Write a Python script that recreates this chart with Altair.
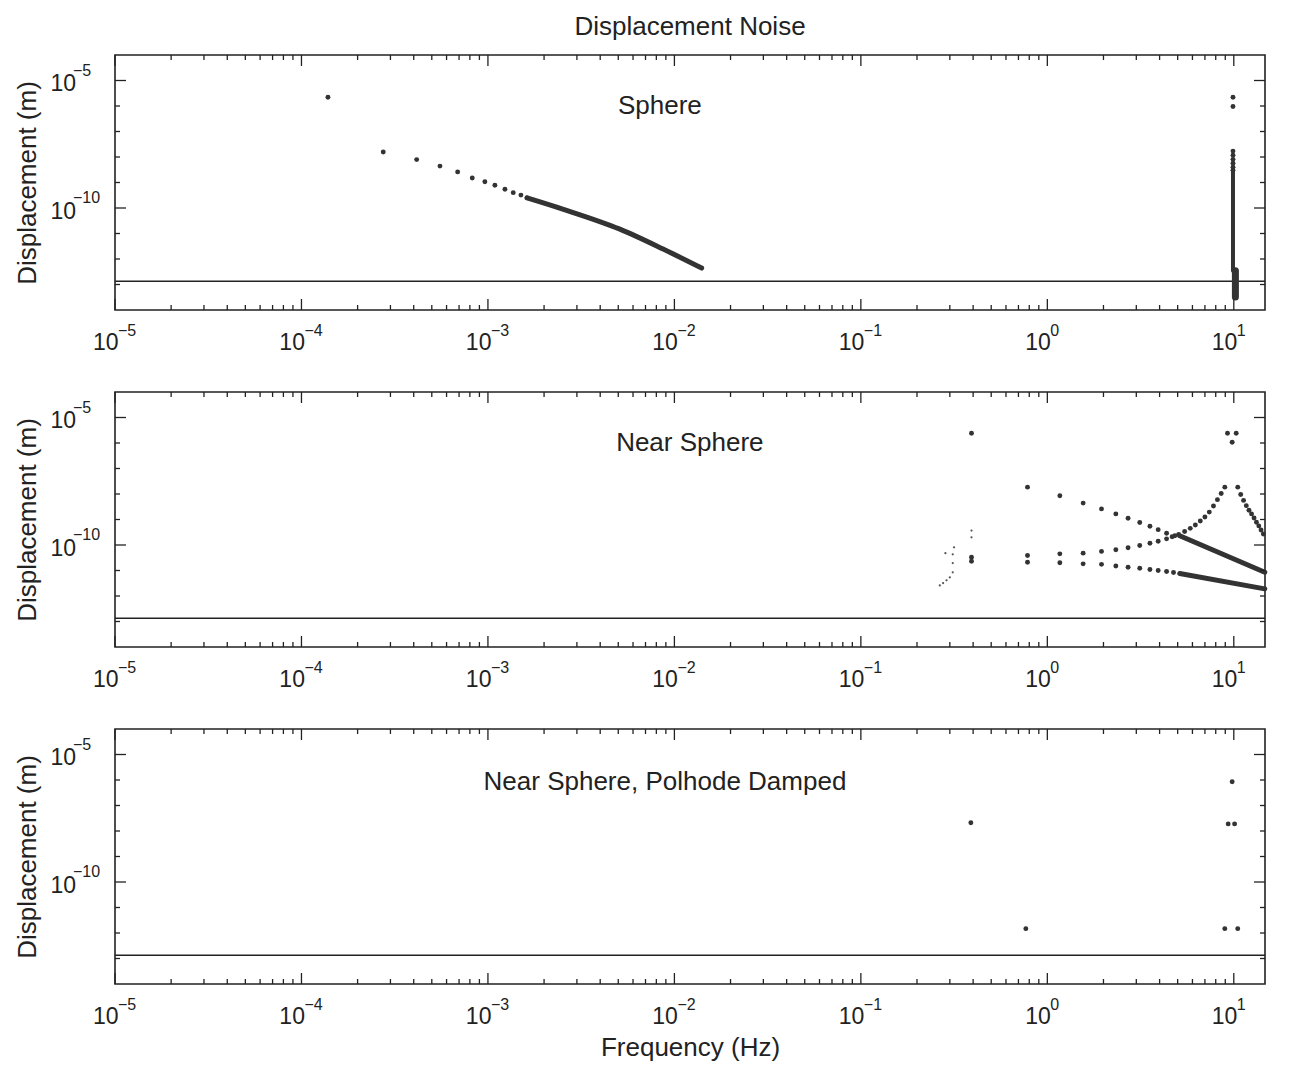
import altair as alt
import pandas as pd

FONT = "Liberation Sans"
INK = "#222222"
DOT = "#333333"
W, H = 1150, 255

X_DOMAIN = [1e-5, 14.7]
Y_DOMAIN = [1e-14, 1e-4]
NOISE_FLOOR = 1.35e-13

# ---------------- Panel 1: Sphere ----------------
sphere_f = [1.387e-4, 2.745e-4, 4.147e-4, 5.53e-4, 6.88e-4, 8.24e-4, 9.63e-4,
            1.090e-3, 1.234e-3, 1.367e-3, 1.503e-3, 1.624e-3]
sphere_d = [2.2e-6, 1.58e-8, 7.9e-9, 4.4e-9, 2.6e-9, 1.5e-9, 1.07e-9,
            7.8e-10, 5.4e-10, 4.0e-10, 3.2e-10, 2.5e-10]
sphere_line_f = [1.62e-3, 2.54e-3, 5.1e-3, 8.7e-3, 1.40e-2]
sphere_line_d = [2.5e-10, 8.9e-11, 1.48e-11, 2.45e-12, 4.4e-13]
sphere_col_f = [9.9, 9.9, 9.9, 9.9, 9.9, 9.9, 9.9, 9.9]
sphere_col_d = [2.2e-6, 9.5e-7, 1.7e-8, 1.17e-8, 8.1e-9, 5.7e-9, 4.0e-9, 3.0e-9]
sphere_bar_f = [9.9, 10.2]
sphere_bar_top = [3.0e-9, 3.5e-13]
sphere_bar_bot = [3.5e-13, 3.2e-14]
sphere_bar_w = [4, 7]

# ---------------- Panel 2: Near Sphere ----------------
nsA_f = [0.392, 0.783, 1.167, 1.556, 1.952, 2.33, 2.71, 3.13, 3.55, 3.93, 4.36, 4.83]
nsA_d = [2.4e-6, 1.86e-8, 8.5e-9, 4.4e-9, 2.6e-9, 1.66e-9, 1.12e-9, 7.6e-10,
         5.4e-10, 4.0e-10, 2.9e-10, 2.3e-10]
nsA_line_f = [5.13, 14.66]
nsA_line_d = [2.3e-10, 8.5e-12]

nsB_f = [0.392, 0.783, 1.167, 1.556, 1.952, 2.33, 2.71, 3.13, 3.55, 3.93, 4.36,
         4.67, 5.06, 5.45, 5.84, 6.22, 6.61, 7.00, 7.39, 7.78, 8.17, 8.56, 8.95,
         10.5, 10.89, 11.28, 11.67, 12.06, 12.45, 12.84, 13.23, 13.62, 14.0, 14.4]
nsB_d = [3.3e-11, 3.9e-11, 4.5e-11, 4.8e-11, 5.6e-11, 6.5e-11, 7.8e-11, 9.5e-11,
         1.17e-10, 1.41e-10, 1.74e-10, 2.1e-10, 2.6e-10, 3.4e-10, 4.5e-10, 6.1e-10,
         8.7e-10, 1.25e-9, 1.95e-9, 3.4e-9, 6.0e-9, 1.04e-8, 1.86e-8,
         1.86e-8, 9.5e-9, 5.6e-9, 3.5e-9, 2.3e-9, 1.66e-9, 1.15e-9, 7.8e-10,
         5.6e-10, 3.9e-10, 2.7e-10]
nsTop_f = [9.25, 10.3, 9.8]
nsTop_d = [2.4e-6, 2.4e-6, 1.07e-6]

nsC_f = [0.392, 0.783, 1.167, 1.556, 1.952, 2.33, 2.71, 3.13, 3.55, 3.93, 4.36, 4.75]
nsC_d = [2.3e-11, 2.1e-11, 2.0e-11, 1.82e-11, 1.74e-11, 1.51e-11, 1.35e-11,
         1.23e-11, 1.10e-11, 1.0e-11, 9.1e-12, 8.3e-12]
nsC_line_f = [5.13, 14.66]
nsC_line_d = [7.6e-12, 1.9e-12]

ns_faint_f = [0.392, 0.392, 0.316, 0.284, 0.311, 0.311, 0.311, 0.300, 0.288, 0.276, 0.265]
ns_faint_d = [3.7e-10, 2.0e-10, 8.1e-11, 4.8e-11, 4.3e-11, 1.95e-11, 8.5e-12,
              5.4e-12, 4.1e-12, 3.2e-12, 2.6e-12]

# ---------------- Panel 3: Near Sphere, Polhode Damped ----------------
pd_f = [0.389, 0.767, 9.8, 9.33, 10.1, 8.95, 10.5]
pd_d = [2.1e-8, 1.48e-12, 8.5e-7, 1.9e-8, 1.9e-8, 1.48e-12, 1.48e-12]

# panel labels (text, frequency, displacement)
panel_labels = ["Sphere", "Near Sphere", "Near Sphere, Polhode Damped"]
label_f = [8.36e-3, 1.21e-2, 8.9e-3]
label_d = [9.6e-7, 1.04e-6, 8.5e-7]

# ticks and tick-label exponents
x_major = [1e-5, 1e-4, 1e-3, 1e-2, 1e-1, 1e0, 1e1]
x_exp = ["\u22125", "\u22124", "\u22123", "\u22122", "\u22121", "0", "1"]
x_minor = [k * 10.0 ** e for e in range(-5, 1) for k in range(2, 10)]
y_major = [1e-10, 1e-5]
y_exp = ["\u221210", "\u22125"]
y_minor = [1e-13, 1e-12, 1e-11, 1e-9, 1e-8, 1e-7, 1e-6]

xs = alt.Scale(type="log", domain=X_DOMAIN, nice=False)
ys = alt.Scale(type="log", domain=Y_DOMAIN, nice=False)

LAB = 23   # size of the "10"
EXP = 16   # size of the exponent


def xaxis(show_title):
    kw = dict(values=x_major, labelExpr="'10'", ticks=False, tickSize=0,
              domain=False, grid=False, labelFont=FONT, labelFontSize=LAB,
              labelColor=INK, labelPadding=21, labelAlign="right",
              labelOffset=3, labelFlush=False, labelOverlap=False,
              titleFont=FONT, titleFontSize=26, titleFontWeight="normal",
              titleColor=INK, titlePadding=6)
    kw["title"] = "Frequency (Hz)" if show_title else None
    return alt.Axis(**kw)


yaxis = alt.Axis(values=y_major, labelExpr="'10'", ticks=False, tickSize=0,
                 domain=False, grid=False, labelFont=FONT, labelFontSize=LAB,
                 labelColor=INK, labelPadding=65, labelAlign="left",
                 labelBaseline="middle", labelOffset=3,
                 labelFlush=False, labelOverlap=False,
                 title="Displacement (m)", titleFont=FONT, titleFontSize=26,
                 titleFontWeight="normal", titleColor=INK, titlePadding=10)


def panel(idx, layers_data, show_xtitle):
    X = alt.X("f:Q", scale=xs, axis=xaxis(show_xtitle))
    Y = alt.Y("d:Q", scale=ys, axis=yaxis)
    layers = []

    # noise floor
    layers.append(alt.Chart(pd.DataFrame({"d": [NOISE_FLOOR]})).mark_rule(
        color=INK, strokeWidth=1.6).encode(y=Y))

    for kind, df, opts in layers_data:
        if kind == "point":
            layers.append(alt.Chart(df).mark_circle(
                color=opts.get("color", DOT), opacity=1,
                size=opts.get("size", 24)).encode(x=X, y=Y))
        elif kind == "line":
            layers.append(alt.Chart(df).mark_line(
                color=DOT, strokeWidth=opts.get("w", 5), strokeCap="round",
                interpolate="monotone").encode(x=X, y=Y))
        elif kind == "bar":
            layers.append(alt.Chart(df).mark_rule(color=DOT, strokeCap="round").encode(
                x=X, y=Y, y2="d2:Q", strokeWidth=alt.StrokeWidth("w:Q", scale=None)))

    # panel label
    layers.append(alt.Chart(pd.DataFrame({
        "f": [label_f[idx]], "d": [label_d[idx]], "t": [panel_labels[idx]]
    })).mark_text(font=FONT, fontSize=26, color=INK, align="center",
                  baseline="middle").encode(x=X, y=Y, text="t:N"))

    # exponents of tick labels
    layers.append(alt.Chart(pd.DataFrame({"f": x_major, "e": x_exp})).mark_text(
        font=FONT, fontSize=EXP, color=INK, align="left", baseline="middle", dx=3
    ).encode(x=X, y=alt.value(H + 21), text="e:N"))
    layers.append(alt.Chart(pd.DataFrame({"d": y_major, "e": y_exp})).mark_text(
        font=FONT, fontSize=EXP, color=INK, align="left", baseline="middle", dy=-10
    ).encode(y=Y, x=alt.value(-42), text="e:N"))

    # inward ticks (frame)
    xmaj = pd.DataFrame({"f": x_major})
    xmin = pd.DataFrame({"f": x_minor})
    ymaj = pd.DataFrame({"d": y_major})
    ymin = pd.DataFrame({"d": y_minor})
    tk = dict(color=INK, strokeWidth=1.3)
    for df, L in ((xmaj, 11), (xmin, 5)):
        layers.append(alt.Chart(df).mark_rule(**tk).encode(
            x=X, y=alt.value(0), y2=alt.value(L)))
        layers.append(alt.Chart(df).mark_rule(**tk).encode(
            x=X, y=alt.value(H), y2=alt.value(H - L)))
    for df, L in ((ymaj, 11), (ymin, 5)):
        layers.append(alt.Chart(df).mark_rule(**tk).encode(
            y=Y, x=alt.value(0), x2=alt.value(L)))
        layers.append(alt.Chart(df).mark_rule(**tk).encode(
            y=Y, x=alt.value(W), x2=alt.value(W - L)))

    return alt.layer(*layers).properties(width=W, height=H)


p1 = panel(0, [
    ("point", pd.DataFrame({"f": sphere_f, "d": sphere_d}), {}),
    ("line", pd.DataFrame({"f": sphere_line_f, "d": sphere_line_d}), {"w": 5}),
    ("point", pd.DataFrame({"f": sphere_col_f, "d": sphere_col_d}), {}),
    ("bar", pd.DataFrame({"f": sphere_bar_f, "d": sphere_bar_top,
                          "d2": sphere_bar_bot, "w": sphere_bar_w}), {}),
], False).properties(title=alt.TitleParams(
    "Displacement Noise", font=FONT, fontSize=26, fontWeight="normal",
    color=INK, anchor="middle", frame="group", offset=14))

p2 = panel(1, [
    ("point", pd.DataFrame({"f": ns_faint_f, "d": ns_faint_d}), {"size": 5, "color": "#555"}),
    ("point", pd.DataFrame({"f": nsA_f, "d": nsA_d}), {}),
    ("line", pd.DataFrame({"f": nsA_line_f, "d": nsA_line_d}), {"w": 5}),
    ("point", pd.DataFrame({"f": nsB_f, "d": nsB_d}), {}),
    ("point", pd.DataFrame({"f": nsTop_f, "d": nsTop_d}), {}),
    ("point", pd.DataFrame({"f": nsC_f, "d": nsC_d}), {}),
    ("line", pd.DataFrame({"f": nsC_line_f, "d": nsC_line_d}), {"w": 5}),
], False)

p3 = panel(2, [
    ("point", pd.DataFrame({"f": pd_f, "d": pd_d}), {}),
], True)

chart = alt.vconcat(p1, p2, p3, spacing=82, bounds="flush").configure_view(
    stroke=INK, strokeWidth=1.6
).properties(background="white")

chart.save("out.html", embed_options={"renderer": "svg", "actions": False})
